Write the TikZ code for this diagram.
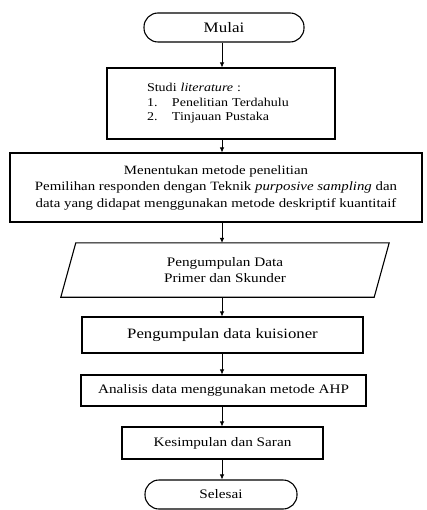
\documentclass[tikz,border=0pt]{standalone}
\usepackage{fontspec}
\setmainfont{Liberation Serif}[FakeStretch=1.17]
\usetikzlibrary{arrows.meta}
\begin{document}
\begin{tikzpicture}[x=1pt,y=1pt,
  box/.style={draw, line width=1.1pt, align=center, inner sep=2pt,
    font=\fontsize{13}{16.5}\selectfont},
  term/.style={box, rounded corners=14pt},
  arr/.style={line width=0.7pt, -{Latex[length=5pt,width=4.5pt]}}]
\useasboundingbox (0,0) rectangle (427,-510);
\fill[white] (0,0) rectangle (427,-510);
\coordinate (axis) at (222,0);
\node[term, minimum width=160pt, minimum height=29pt, font=\fontsize{14.5}{16.5}\selectfont] (mulai) at (224,-27.5) {Mulai};
\node[box, minimum width=228pt, minimum height=71pt, text width=180pt, inner xsep=24pt, align=left,
  font=\fontsize{12}{14.5}\selectfont] (lit) at (221,-103.5)
  {\hspace*{16pt}Studi \textit{literature} :\\
   \hspace*{16pt}\makebox[25pt][l]{1.}Penelitian Terdahulu\\
   \hspace*{16pt}\makebox[25pt][l]{2.}Tinjauan Pustaka};
\node[box, minimum width=412pt, minimum height=69pt, font=\fontsize{12.7}{16.5}\selectfont] (metode) at (216,-187.5)
  {Menentukan metode penelitian\\
   Pemilihan responden dengan Teknik \textit{purposive sampling} dan\\
   data yang didapat menggunakan metode deskriptif kuantitaif};
\node[align=center, minimum width=298pt, minimum height=54pt, inner sep=2pt,
  font=\fontsize{13}{16.5}\selectfont] (data) at (225,-270)
  {Pengumpulan Data\\ Primer dan Skunder};
\draw[line width=1.1pt] ([xshift=-15pt]data.south west) -- (data.north west)
  -- ([xshift=15pt]data.north east) -- (data.south east) -- cycle;
\node[box, minimum width=281pt, minimum height=36pt, font=\fontsize{14.3}{16.5}\selectfont] (kuis) at (222.5,-335) {Pengumpulan data kuisioner};
\node[box, minimum width=285pt, minimum height=31pt] (ahp) at (223.5,-390.5) {Analisis data menggunakan metode AHP};
\node[box, minimum width=201pt, minimum height=32pt] (kes) at (222.5,-443) {Kesimpulan dan Saran};
\node[term, minimum width=152pt, minimum height=29pt] (selesai) at (221,-494.5) {Selesai};
\foreach \a/\b in {mulai/lit, lit/metode, metode/data, data/kuis, kuis/ahp, ahp/kes, kes/selesai}
  \draw[arr] (\a.south -| axis) -- (\b.north -| axis);
\end{tikzpicture}
\end{document}
